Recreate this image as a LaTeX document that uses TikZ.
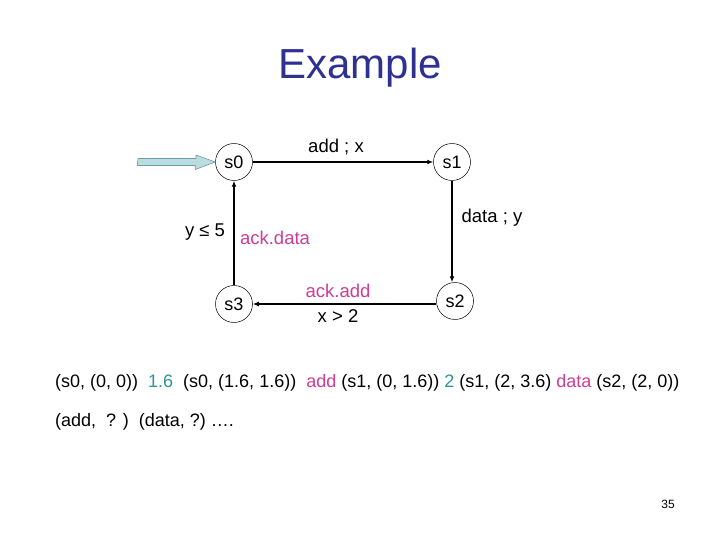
\documentclass[tikz,border=0pt]{standalone}
\usepackage{fontspec}
\setmainfont{Liberation Sans}
\usetikzlibrary{arrows.meta}
\newcommand{\Unit}{1pt}
\newcommand{\Edge}{1.3pt}
\newcommand{\StateR}{18.5}
\definecolor{titleblue}{HTML}{2E3192}
\definecolor{pinkish}{HTML}{CC3D99}
\definecolor{tealish}{HTML}{2E9494}
\definecolor{iceblue}{HTML}{B9DDE0}
\definecolor{iceedge}{HTML}{6F9CA6}
\definecolor{ink}{HTML}{000000}

\tikzset{
  state/.style={circle,draw=ink,line width=0.5pt,minimum size=2*\StateR pt,
    inner sep=0pt,font=\fontsize{18}{18}\selectfont},
  lbl/.style={font=\fontsize{18.5}{18.5}\selectfont,inner sep=0pt},
  trans/.style={draw=ink,line width=\Edge,-{Latex[length=6pt,width=5pt]}}
}

\begin{document}
\begin{tikzpicture}[x=\Unit,y=-\Unit, line join=round]

  % ---- page ---------------------------------------------------------------
  \useasboundingbox (0,0) rectangle (720,540);
  \fill[white] (0,0) rectangle (720,540);

  % ---- title --------------------------------------------------------------
  \node[titleblue,font=\fontsize{42}{42}\selectfont,inner sep=0pt] (title) at (360,68) {Example};

  % ---- the automaton ------------------------------------------------------
  \node[state] (s0) at (234,162) {s0};
  \node[state] (s1) at (452,162) {s1};
  \node[state] (s2) at (455,301) {s2};
  \node[state] (s3) at (234,304) {s3};

  % initial arrow: a fat block arrow, not a normal tip
  \coordinate (init) at (138,162);
  \filldraw[fill=iceblue,draw=iceedge,line width=0.6pt]
    (init) ++(0,-3.5) -- ++(58,0) -- ++(0,-3.5) -- (s0.west) -- ++(-20,7.5)
    -- ++(0,-4) -- ++(-58,0) -- cycle;

  \draw[trans] (s0.east) -- (s1.west);
  \draw[trans] (s1.south) -- (s1.south |- s2.north);
  \draw[trans] (s2.west |- s3.east) -- (s3.east);
  \draw[trans] (s3.north) -- (s0.south);

  % ---- labels -------------------------------------------------------------
  \node[lbl] (lAdd)  at (336,147) {add ; x};
  \node[lbl] (lData) at (492,218) {data ; y};
  \node[lbl] (lInv)  at (205,232) {y ≤ 5};
  \node[lbl,pinkish] (lAckD) at (275,238) {ack.data};
  \node[lbl,pinkish] (lAckA) at (338,291) {ack.add};
  \node[lbl] (lGrd)  at (338,316) {x > 2};

  % ---- a run --------------------------------------------------------------
  \node[anchor=west,inner sep=0pt,font=\fontsize{18}{18}\selectfont] (run) at (55,383)
    {(s0, (0, 0))\ \ \textcolor{tealish}{1.6}\ \ (s0, (1.6, 1.6))\ \ \textcolor{pinkish}{add} (s1, (0, 1.6)) \textcolor{tealish}{2} (s1, (2, 3.6) \textcolor{pinkish}{data} (s2, (2, 0))};
  \node[anchor=west,inner sep=0pt,font=\fontsize{18}{18}\selectfont] (word) at (55,422)
    {(add,\ \ ? )\ \ (data, ?)\ ….};

  % ---- page number --------------------------------------------------------
  \node[font=\fontsize{12}{12}\selectfont,inner sep=0pt] (pgno) at (668,504) {35};

\end{tikzpicture}
\end{document}
